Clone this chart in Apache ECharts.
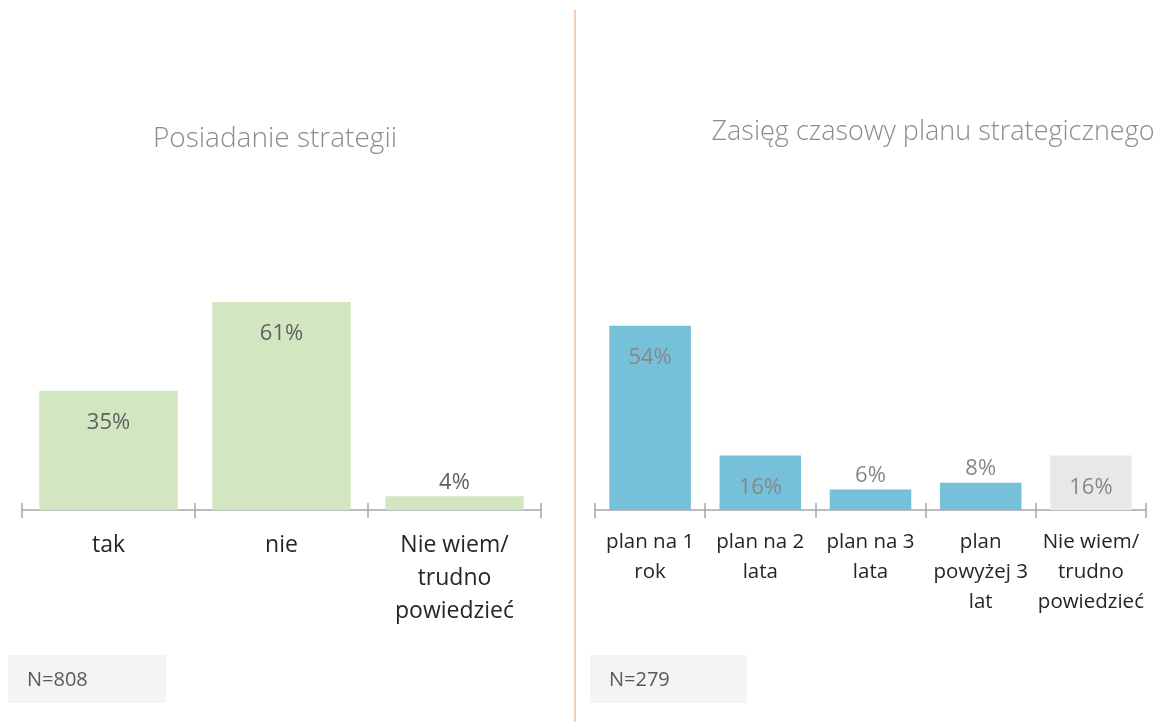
<!DOCTYPE html>
<html>
<head>
<meta charset="utf-8">
<script src="https://cdn.jsdelivr.net/npm/echarts@6/dist/echarts.min.js"></script>
<style>
  html, body { margin: 0; padding: 0; background: #fff; }
  #chart { width: 1164px; height: 722px; }
</style>
</head>
<body>
<div id="chart"></div>
<script>
// data
var leftTitle = 'Posiadanie strategii';
var leftCategories = ['tak', 'nie', 'Nie wiem/\ntrudno\npowiedzieć'];
var leftValues = [35, 61, 4];
var leftN = 'N=808';

var rightTitle = 'Zasięg czasowy planu strategicznego';
var rightCategories = ['plan na 1\nrok', 'plan na 2\nlata', 'plan na 3\nlata', 'plan\npowyżej 3\nlat', 'Nie wiem/\ntrudno\npowiedzieć'];
var rightValues = [54, 16, 6, 8, 16];
var rightN = 'N=279';

var FONT = '"Open Sans", sans-serif';

// small bars get the label above, the rest inside the top
function barData(values, colors, labelColor) {
   return values.map(function (v, i) {
      return {
         value: v,
         itemStyle: { color: colors[i] },
         label: { position: v < 10 ? 'top' : 'insideTop', distance: v < 10 ? 3 : 21, color: labelColor }
      };
   });
}

// two category axes on top of each other so the ticks cross the axis line
function catAxis(gridIndex, cats, fontSize, lineHeight, margin) {
   return [
      {
         type: 'category', gridIndex: gridIndex, data: cats, position: 'bottom',
         axisLine: { show: true, lineStyle: { color: '#a6a6a6', width: 1.5 } },
         axisTick: { show: true, length: 8, lineStyle: { color: '#a6a6a6', width: 1.5 } },
         axisLabel: { color: '#262626', fontFamily: FONT, fontSize: fontSize, lineHeight: lineHeight, margin: margin, interval: 0 }
      },
      {
         type: 'category', gridIndex: gridIndex, data: cats, position: 'bottom',
         axisLine: { show: false },
         axisTick: { show: true, inside: true, length: 7, lineStyle: { color: '#a6a6a6', width: 1.5 } },
         axisLabel: { show: false }
      }
   ];
}

var chart = echarts.init(document.getElementById('chart'));
var option = {
   animation: false,
   title: [
      { text: leftTitle, left: 270, top: 120, textAlign: 'center',
        textStyle: { color: '#8c8c8c', fontFamily: FONT, fontWeight: 300, fontSize: 28 } },
      { text: rightTitle, left: 928, top: 114, textAlign: 'center',
        textStyle: { color: '#8c8c8c', fontFamily: FONT, fontWeight: 300, fontSize: 27 } }
   ],
   grid: [
      { left: 22, width: 519, top: 169, height: 341 },
      { left: 595, width: 551, top: 169, height: 341 }
   ],
   xAxis: catAxis(0, leftCategories, 23, 33, 19).concat(catAxis(1, rightCategories, 20.5, 30, 17)),
   yAxis: [
      { type: 'value', gridIndex: 0, min: 0, max: 100, show: false },
      { type: 'value', gridIndex: 1, min: 0, max: 100, show: false }
   ],
   series: [
      {
         type: 'bar', xAxisIndex: 0, yAxisIndex: 0, barCategoryGap: '20%',
         data: barData(leftValues, ['#d1e6c1', '#d1e6c1', '#d1e6c1'], '#5f5f5f'),
         label: { show: true, formatter: '{c}%', fontFamily: FONT, fontSize: 22 }
      },
      {
         type: 'bar', xAxisIndex: 2, yAxisIndex: 1, barCategoryGap: '26%',
         data: barData(rightValues, ['#76c0da', '#76c0da', '#76c0da', '#76c0da', '#e8e8e8'], '#888888'),
         label: { show: true, formatter: '{c}%', fontFamily: FONT, fontSize: 22 }
      }
   ],
   graphic: [
      { type: 'line', shape: { x1: 575, y1: 10, x2: 575, y2: 722 }, style: { stroke: '#f4bf98', lineWidth: 1.5 } },
      { type: 'rect', shape: { x: 8, y: 655, width: 158, height: 48 }, style: { fill: '#f4f4f4' } },
      { type: 'text', x: 27, y: 680, style: { text: leftN, fill: '#595959', font: '20px "Open Sans", sans-serif', verticalAlign: 'middle' } },
      { type: 'rect', shape: { x: 590, y: 655, width: 157, height: 48 }, style: { fill: '#f4f4f4' } },
      { type: 'text', x: 609, y: 680, style: { text: rightN, fill: '#595959', font: '20px "Open Sans", sans-serif', verticalAlign: 'middle' } }
   ]
};
chart.setOption(option);
</script>
</body>
</html>
